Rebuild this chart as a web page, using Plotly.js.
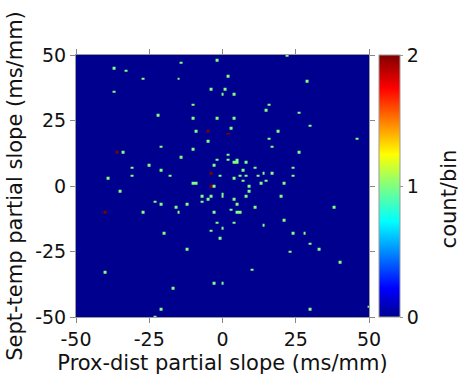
<!DOCTYPE html>
<html><head><meta charset="utf-8">
<script src="https://cdn.plot.ly/plotly-3.0.1.min.js"></script>
<style>body{margin:0;padding:0;background:#fff}#chart{width:461px;height:381px}</style>
</head><body><div id="chart"></div>
<script>
// Bin centres (ms/mm) of non-empty bins, and their counts
const xVals = [-2,-37,-33,-14,-27,-15,-37,-4,-10,-22,-10,-2,-9,-5,-5,-21,-10,-36,-34,-14,-2,-3,-25,-31,-21,-31,-18,-4,-1,-39,-10,-9,
  22,2,29,1,0,4,16,15,26,4,3,19,30,2,16,46,17,26,2,2,5,4,5,8,7,11,24,6,8,12,14,17,24,4,7,15,13,21,
  -4,-3,-35,-7,-4,-5,-7,-23,-21,-12,-16,-40,-27,-15,-3,-2,-4,-20,-1,-12,-40,-3,-17,-21,-23,
  9,9,0,0,8,20,4,5,3,11,5,6,38,21,4,14,0,24,28,30,33,23,40,10,0,30,50];
const yVals = [48,45,44,47,41,41,36,37,31,27,26,26,21,21,17,15,14,13,13,11,10,8,8,7,6,4,4,5,4,3,1,1,
  50,42,40,37,35,35,31,29,28,26,22,21,23,20,18,18,15,13,12,10,10,9,9,9,6,7,7,4,4,4,5,5,4,3,2,2,1,1,
  0,0,-2,-4,-4,-5,-6,-6,-7,-7,-8,-10,-10,-10,-10,-14,-17,-18,-20,-24,-33,-37,-39,-47,-50,
  0,-2,-3,-4,-4,-4,-5,-7,-9,-8,-10,-10,-8,-13,-14,-15,-16,-18,-18,-22,-24,-25,-29,-32,-37,-47,-46];
const counts = [1,1,1,1,1,1,1,1,1,1,1,1,1,2,1,1,1,2,1,1,1,1,1,1,1,1,1,2,1,1,1,1,
  1,1,1,1,1,1,1,1,1,1,1,1,1,2,1,1,1,1,1,1,1,1,1,1,1,1,1,1,1,1,1,1,1,1,1,1,1,1,
  2,1,1,1,1,1,1,1,1,1,1,2,1,1,1,1,1,1,1,1,1,1,1,1,1,
  1,1,1,1,1,1,1,1,1,1,1,1,1,1,1,1,1,1,1,1,1,1,1,1,1,1,1];
const tickVals = [-50,-25,0,25,50];
const tickText = ['-50','-25','0','25','50'];
const cbTickVals = [0,1,2];

const jet = [[0,'rgb(0,0,143)'],[0.11,'rgb(0,0,255)'],[0.365,'rgb(0,255,255)'],
  [0.5,'rgb(128,255,128)'],[0.62,'rgb(255,255,0)'],[0.873,'rgb(255,0,0)'],[1,'rgb(128,0,0)']];

const trace = {
  type: 'histogram2d',
  x: xVals, y: yVals, z: counts, histfunc: 'sum',
  xbins: {start: -50.5, end: 50.5, size: 1},
  ybins: {start: -50.5, end: 50.5, size: 1},
  zmin: 0, zmax: 2, colorscale: jet,
  colorbar: {
    x: 1.0325, xanchor: 'left', xpad: 0, y: 0, yanchor: 'bottom', len: 1, ypad: 0,
    thickness: 21, outlinecolor: '#999', outlinewidth: 1,
    tickvals: cbTickVals, ticktext: cbTickVals.map(String), ticks: 'outside', ticklen: 3, tickcolor: '#999',
    tickfont: {size: 19, color: '#111'},
    title: {text: ''}
  },
  hoverinfo: 'skip'
};

const axisCommon = {
  range: [-50, 50], tickvals: tickVals, ticktext: tickText, ticks: 'outside', ticklen: 5, tickcolor: '#888',
  showline: true, linecolor: '#999', linewidth: 1, mirror: 'ticks',
  showgrid: false, zeroline: false, tickfont: {size: 19, color: '#111'}
};

const layout = {
  width: 461, height: 381,
  margin: {l: 76, r: 92, t: 55, b: 64},
  paper_bgcolor: '#fff', plot_bgcolor: 'rgb(0,0,143)',
  font: {family: 'DejaVu Sans, Verdana, sans-serif', color: '#111'},
  xaxis: Object.assign({}, axisCommon, {title: {text: 'Prox-dist partial slope (ms/mm)', font: {size: 21}, standoff: 6}}),
  yaxis: Object.assign({}, axisCommon, {title: {text: 'Sept-temp partial slope (ms/mm)', font: {size: 21}, standoff: 6}}),
  annotations: [{
    text: 'count/bin', textangle: -90, xref: 'paper', yref: 'paper',
    x: 1.274, y: 0.45, xanchor: 'center', yanchor: 'middle', showarrow: false,
    font: {size: 21, color: '#111'}
  }],
  showlegend: false
};

Plotly.newPlot('chart', [trace], layout, {displayModeBar: false, staticPlot: true});
</script></body></html>
